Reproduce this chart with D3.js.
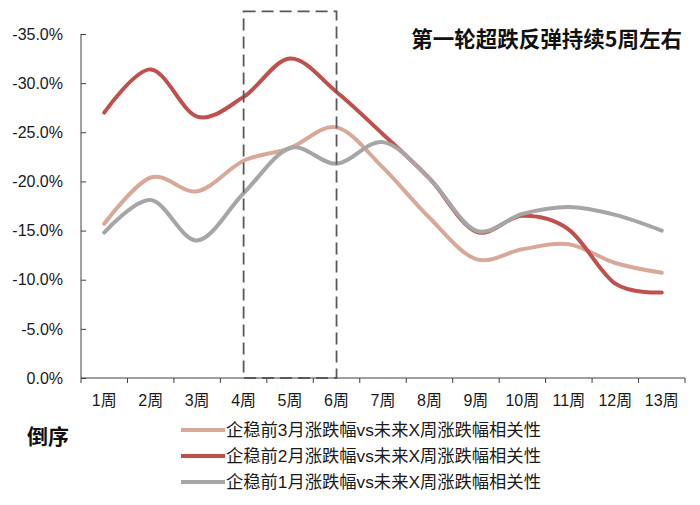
<!DOCTYPE html>
<html>
<head>
<meta charset="utf-8">
<script src="https://cdn.jsdelivr.net/npm/d3@7"></script>
<style>
  html, body { margin: 0; padding: 0; background: #fff; }
  svg { display: block; }
</style>
</head>
<body>
<svg id="chart" width="700" height="505"></svg>
<script>
const categories = ["1周","2周","3周","4周","5周","6周","7周","8周","9周","10周","11周","12周","13周"];
const yTicks = [0, -5, -10, -15, -20, -25, -30, -35];
const seriesNames = [
  "企稳前3月涨跌幅vs未来X周涨跌幅相关性",
  "企稳前2月涨跌幅vs未来X周涨跌幅相关性",
  "企稳前1月涨跌幅vs未来X周涨跌幅相关性"
];
const values3m = [-15.7, -20.4, -19.0, -22.1, -23.4, -25.5, -21.4, -16.3, -12.1, -13.1, -13.6, -11.7, -10.7];
const values2m = [-27.0, -31.4, -26.6, -28.6, -32.5, -29.1, -24.8, -20.3, -14.9, -16.5, -15.1, -9.6, -8.7];
const values1m = [-14.8, -18.1, -14.0, -18.8, -23.4, -21.8, -24.0, -20.3, -15.0, -16.7, -17.4, -16.6, -15.0];
const colors = ["#D8A898", "#C0504D", "#A6A6A6"];
const titleText = "第一轮超跌反弹持续5周左右";
const orderLabel = "倒序";
const boxCats = ["4周", "6周"];
const boxTop = -37.3;

const series = [
  { name: seriesNames[0], values: values3m, color: colors[0] },
  { name: seriesNames[1], values: values2m, color: colors[1] },
  { name: seriesNames[2], values: values1m, color: colors[2] }
];

const svg = d3.select("#chart");
const fontLatin = "'Liberation Sans', Arial, 'Noto Sans CJK SC', sans-serif";
const fontCJK = "'Noto Sans CJK SC', sans-serif";

const x = d3.scaleBand().domain(categories).range([81, 685]).padding(0);
const y = d3.scaleLinear().domain([0, -35]).range([378, 34]);
const cx = d => x(d) + x.bandwidth() / 2;

// Y axis
const yAxis = svg.append("g").attr("transform", "translate(81,0)")
  .call(d3.axisRight(y).tickValues(yTicks).tickSize(5).tickFormat(() => ""));
yAxis.select(".domain").attr("stroke", "#404040").attr("d", `M0,${y(-35)}V${y(0)}`);
yAxis.selectAll(".tick line").attr("stroke", "#404040");

svg.append("g").selectAll("text").data(yTicks).join("text")
  .attr("x", 63).attr("y", d => y(d)).attr("dy", "0.36em")
  .attr("text-anchor", "end")
  .attr("font-family", fontLatin).attr("font-size", 16).attr("fill", "#1a1a1a")
  .text(d => d.toFixed(1) + "%");

// X axis
const xAxis = svg.append("g").attr("transform", `translate(0,${y(0)})`)
  .call(d3.axisBottom(x).tickSize(0).tickFormat(""));
xAxis.select(".domain").attr("stroke", "#404040").attr("d", `M81,0H685`);
xAxis.selectAll(".tick").remove();
const boundaries = categories.map(c => x(c)).concat([x(categories[categories.length - 1]) + x.bandwidth()]);
svg.append("g").selectAll("line").data(boundaries).join("line")
  .attr("x1", d => d).attr("x2", d => d)
  .attr("y1", y(0)).attr("y2", y(0) + 5)
  .attr("stroke", "#404040");

svg.append("g").selectAll("text").data(categories).join("text")
  .attr("x", d => cx(d)).attr("y", 406)
  .attr("text-anchor", "middle")
  .attr("font-family", fontLatin).attr("font-size", 16).attr("fill", "#1a1a1a")
  .text(d => d);

// Lines
const line = d3.line()
  .x((d, i) => cx(categories[i]))
  .y(d => y(d))
  .curve(d3.curveCardinal.tension(0));

svg.append("g").selectAll("path").data(series).join("path")
  .attr("d", d => line(d.values))
  .attr("fill", "none")
  .attr("stroke", d => d.color)
  .attr("stroke-width", 4)
  .attr("stroke-linecap", "round")
  .attr("stroke-linejoin", "round");

// Dashed box
svg.append("rect")
  .attr("x", cx(boxCats[0]))
  .attr("y", y(boxTop))
  .attr("width", cx(boxCats[1]) - cx(boxCats[0]))
  .attr("height", y(0) - y(boxTop))
  .attr("fill", "none")
  .attr("stroke", "#595959")
  .attr("stroke-width", 1.8)
  .attr("stroke-dasharray", "12,6");

// Title
svg.append("text")
  .attr("x", 682).attr("y", 47)
  .attr("text-anchor", "end")
  .attr("font-family", fontCJK).attr("font-weight", "bold").attr("font-size", 21.5)
  .attr("fill", "#111")
  .text(titleText);

// 倒序 label
svg.append("text")
  .attr("x", 27).attr("y", 444)
  .attr("font-family", fontCJK).attr("font-weight", "bold").attr("font-size", 21)
  .attr("fill", "#111")
  .text(orderLabel);

// Legend
const legend = svg.append("g").selectAll("g").data(series).join("g")
  .attr("transform", (d, i) => `translate(0,${430 + i * 26})`);
legend.append("line")
  .attr("x1", 181).attr("x2", 225).attr("y1", 0).attr("y2", 0)
  .attr("stroke", d => d.color).attr("stroke-width", 4);
legend.append("text")
  .attr("x", 226).attr("y", 0).attr("dy", "0.36em")
  .attr("font-family", fontLatin).attr("font-size", 17.3).attr("fill", "#1a1a1a")
  .text(d => d.name);
</script>
</body>
</html>
